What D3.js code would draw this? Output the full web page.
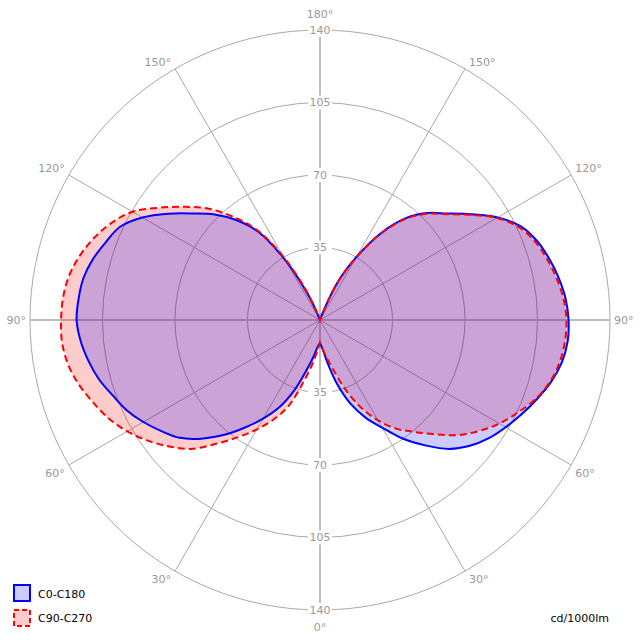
<!DOCTYPE html>
<html>
<head>
<meta charset="utf-8">
<script src="https://cdn.jsdelivr.net/npm/d3@7"></script>
<style>
  html, body { margin: 0; padding: 0; background: #fff; }
  svg { display: block; font-family: "DejaVu Sans", Verdana, sans-serif; }
</style>
</head>
<body>
<svg id="chart" width="640" height="640"></svg>
<script>
// gamma angles (degrees, 0 = downward)
const gammaAngles = [0,5,10,15,20,25,30,35,40,45,50,55,60,65,70,75,80,85,90,95,100,105,110,115,120,125,130,135,140,145,150,155,160,165,170,175,180];
// C0-C180 plane (blue): C0 right half, C180 left half
const c0   = [11,14,21,32,43,52,60,70,79,88,94.5,99.5,103.5,107.5,111.5,115.5,118.5,120,120,119,117,114.5,111.5,107,99,89,80,73,64,51,35,20,3,0,0,0,0];
const c180 = [11,13,18,25,36,46.5,55,63.5,72.5,81,88.5,93.5,98.5,103,106.5,110.5,113.5,116,117.5,117,116,113.5,110,106.5,99,89.5,80,72,63,52,33,13,1,0,0,0,0];
// C90-C270 plane (red): C90 right half, C270 left half
const c90  = [11,14,18.5,25,35.5,46.5,56,64,70.5,78,86.5,93.5,100,105.5,111,115,117.5,118.7,119,118,116,113.5,110.5,106,98.5,88.5,79.5,72.5,63.5,50.5,34.5,19.5,2.5,0,0,0,0];
const c270 = [11,15,22,31,44,53,61,69,78,88,95,101.5,107.5,112.5,116.5,120.5,123.5,125,125,124.5,123,120,116,111,104.5,94.5,85,76,65,53,35,15,1,0,0,0,0];

const gridValues = [35, 70, 105, 140];
const spokeAngles = [0, 30, 60, 90, 120, 150, 180];
const seriesNames = ["C0-C180", "C90-C270"];
const unitLabel = "cd/1000lm";

const cx = 320, cy = 320;
const svg = d3.select("#chart");
const r = d3.scaleLinear().domain([0, 140]).range([0, 290]);
const rad = d => d * Math.PI / 180;

const g = svg.append("g").attr("transform", `translate(${cx},${cy})`);

// grid circles
g.selectAll("circle.grid").data(gridValues).join("circle")
  .attr("r", d => r(d)).attr("fill", "none")
  .attr("stroke", "#a8a8a8").attr("stroke-width", 1);

// spokes (both sides)
const spokes = [];
spokeAngles.forEach(a => {
  if (a === 0 || a === 180 || a === 90) return;
  spokes.push({ a, side: 1 }, { a, side: -1 });
});
g.selectAll("line.spoke").data(spokes).join("line")
  .attr("x1", 0).attr("y1", 0)
  .attr("x2", d => d.side * r(140) * Math.sin(rad(d.a)))
  .attr("y2", d => r(140) * Math.cos(rad(d.a)))
  .attr("stroke", "#a8a8a8").attr("stroke-width", 1);
// main axes
g.append("line").attr("x1", -r(140)).attr("x2", r(140)).attr("y1", 0).attr("y2", 0)
  .attr("stroke", "#bdbdbd").attr("stroke-width", 2);
g.append("line").attr("y1", -r(140)).attr("y2", r(140)).attr("x1", 0).attr("x2", 0)
  .attr("stroke", "#bdbdbd").attr("stroke-width", 2);

// build closed polar path: right half gamma 0->180, then left half 180->0
function buildPoints(right, left) {
  const pts = [];
  gammaAngles.forEach((gm, i) => pts.push([Math.PI - rad(gm), r(right[i])]));
  for (let i = gammaAngles.length - 1; i >= 0; i--) {
    pts.push([rad(gammaAngles[i]) - Math.PI, r(left[i])]);
  }
  return pts;
}
const line = d3.lineRadial()
  .angle(d => d[0]).radius(d => d[1])
  .curve(d3.curveCatmullRomClosed.alpha(0.5));

const bluePts = buildPoints(c0, c180);
const redPts = buildPoints(c90, c270);

g.append("path").attr("d", line(redPts)).attr("fill", "rgba(255,0,0,0.2)").attr("stroke", "none");
g.append("path").attr("d", line(bluePts)).attr("fill", "rgba(0,0,255,0.2)").attr("stroke", "none");
g.append("path").attr("d", line(bluePts)).attr("fill", "none")
  .attr("stroke", "#0000ff").attr("stroke-width", 2).attr("stroke-linejoin", "round");
g.append("path").attr("d", line(redPts)).attr("fill", "none")
  .attr("stroke", "#ff0000").attr("stroke-width", 2).attr("stroke-dasharray", "7,4");

// value labels on vertical axis (top and bottom)
const valLabels = [];
gridValues.forEach(v => { valLabels.push({ v, y: -r(v) }, { v, y: r(v) }); });
const vl = g.selectAll("g.vlabel").data(valLabels).join("g")
  .attr("transform", d => `translate(0,${d.y})`);
vl.append("rect").attr("x", -12).attr("y", -7).attr("width", 24).attr("height", 14).attr("fill", "#fff");
vl.append("text").text(d => d.v)
  .attr("text-anchor", "middle").attr("dy", "0.35em")
  .attr("font-size", 11).attr("fill", "#999");

// angle labels
const angLabels = [];
spokeAngles.forEach(a => {
  if (a === 0 || a === 180) angLabels.push({ a, side: 0 });
  else angLabels.push({ a, side: -1 }, { a, side: 1 });
});
g.selectAll("text.alabel").data(angLabels).join("text")
  .text(d => d.a + "°")
  .attr("font-size", 11).attr("fill", "#999").attr("dy", "0.35em")
  .attr("text-anchor", d => d.side === 0 ? "middle" : (d.side < 0 ? "end" : "start"))
  .attr("x", d => {
    const x = (d.side || 0) * r(140) * Math.sin(rad(d.a));
    return d.side === 0 ? 0 : x + d.side * 4;
  })
  .attr("y", d => {
    const y = r(140) * Math.cos(rad(d.a));
    if (d.side === 0) return d.a === 0 ? y + 17 : y - 16;
    if (d.a === 90) return 0;
    return d.a > 90 ? y - 7 : y + 8;
  });

// legend
const legend = svg.append("g");
legend.append("rect").attr("x", 14).attr("y", 585).attr("width", 16).attr("height", 16)
  .attr("fill", "rgba(0,0,255,0.2)").attr("stroke", "#0000ff").attr("stroke-width", 2);
legend.append("text").attr("x", 38).attr("y", 594).attr("dy", "0.35em")
  .attr("font-size", 11).attr("fill", "#000").text(seriesNames[0]);
legend.append("rect").attr("x", 14).attr("y", 610).attr("width", 16).attr("height", 16)
  .attr("fill", "rgba(255,0,0,0.2)").attr("stroke", "#ff0000").attr("stroke-width", 2)
  .attr("stroke-dasharray", "5,3");
legend.append("text").attr("x", 38).attr("y", 618).attr("dy", "0.35em")
  .attr("font-size", 11).attr("fill", "#000").text(seriesNames[1]);

svg.append("text").attr("x", 609).attr("y", 618).attr("dy", "0.35em")
  .attr("text-anchor", "end").attr("font-size", 11).attr("fill", "#000").text(unitLabel);
</script>
</body>
</html>
